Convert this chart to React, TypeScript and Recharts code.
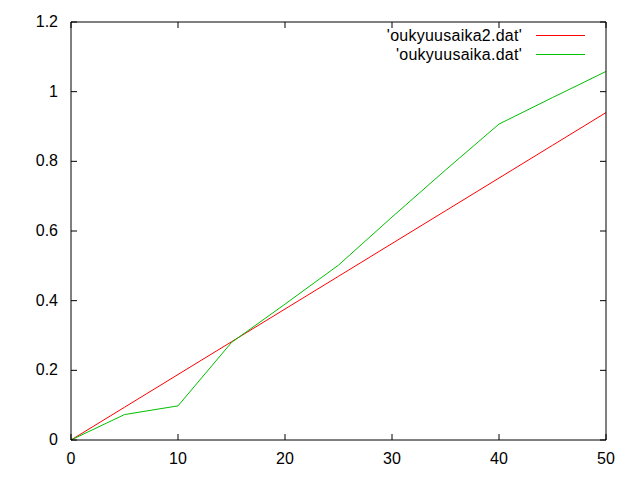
import React from "react";
import { LineChart, Line, XAxis, YAxis, Legend } from "recharts";

const xValues = [0, 5, 10, 15, 20, 25, 30, 35, 40, 45, 50];
const redValues = [0, 0.094, 0.188, 0.282, 0.376, 0.47, 0.564, 0.658, 0.752, 0.846, 0.94];
const greenValues = [0, 0.073, 0.098, 0.28, 0.39, 0.502, 0.64, 0.775, 0.907, 0.983, 1.058];
const xTicks = [0, 10, 20, 30, 40, 50];
const yTicks = [0, 0.2, 0.4, 0.6, 0.8, 1, 1.2];
const seriesNames = ["'oukyuusaika2.dat'", "'oukyuusaika.dat'"];
const seriesColors = ["#ff0000", "#00c000"];

const data = xValues.map((x, i) => ({ x, red: redValues[i], green: greenValues[i] }));

const FONT = "'Liberation Sans', Arial, sans-serif";
const FS = 16;
const TICK = 6;

const LeftTick = (props: any) => {
  const { x, y, payload } = props;
  return (
    <g>
      <line x1={x} x2={x + TICK} y1={y} y2={y} stroke="#000" />
      <text x={x - 13} y={y} dy={5} textAnchor="end" fontFamily={FONT} fontSize={FS} fill="#000">
        {String(payload.value)}
      </text>
    </g>
  );
};
const RightTick = (props: any) => {
  const { x, y } = props;
  return <line x1={x - TICK} x2={x} y1={y} y2={y} stroke="#000" />;
};
const BottomTick = (props: any) => {
  const { x, y, payload } = props;
  return (
    <g>
      <line x1={x} x2={x} y1={y} y2={y - TICK} stroke="#000" />
      <text x={x} y={y + 24} textAnchor="middle" fontFamily={FONT} fontSize={FS} fill="#000">
        {String(payload.value)}
      </text>
    </g>
  );
};
const TopTick = (props: any) => {
  const { x, y } = props;
  return <line x1={x} x2={x} y1={y} y2={y + TICK} stroke="#000" />;
};

const LegendContent = () => (
  <div style={{ fontFamily: FONT, fontSize: FS, color: "#000", lineHeight: "19px" }}>
    {seriesNames.map((n, i) => (
      <div key={n} style={{ display: "flex", alignItems: "center", justifyContent: "flex-end", height: 19 }}>
        <span style={{ whiteSpace: "pre", letterSpacing: "0.25px" }}>{n}</span>
        <svg width={49} height={19} style={{ marginLeft: 14, display: "block" }}>
          <line x1={0} x2={49} y1={9.5} y2={9.5} stroke={seriesColors[i]} strokeWidth={1} />
        </svg>
      </div>
    ))}
  </div>
);

export default function App() {
  return (
    <div style={{ position: "absolute", left: 0, top: 0, background: "#fff" }}>
      <LineChart width={640} height={480} data={data} margin={{ top: 21, right: 33, bottom: 0, left: 0 }}>
        <XAxis
          xAxisId="b"
          dataKey="x"
          type="number"
          domain={[0, 50]}
          ticks={xTicks}
          height={40}
          tickLine={false}
          tickSize={0}
          tickMargin={0}
          axisLine={{ stroke: "#000" }}
          tick={<BottomTick />}
        />
        <XAxis
          xAxisId="t"
          orientation="top"
          dataKey="x"
          type="number"
          domain={[0, 50]}
          ticks={xTicks}
          height={1}
          tickLine={false}
          tickSize={0}
          tickMargin={0}
          axisLine={{ stroke: "#000" }}
          tick={<TopTick />}
        />
        <YAxis
          yAxisId="l"
          type="number"
          domain={[0, 1.2]}
          ticks={yTicks}
          width={71}
          tickLine={false}
          tickSize={0}
          tickMargin={0}
          axisLine={{ stroke: "#000" }}
          tick={<LeftTick />}
        />
        <YAxis
          yAxisId="r"
          orientation="right"
          type="number"
          domain={[0, 1.2]}
          ticks={yTicks}
          width={1}
          tickLine={false}
          tickSize={0}
          tickMargin={0}
          axisLine={{ stroke: "#000" }}
          tick={<RightTick />}
        />
        <Legend
          layout="vertical"
          align="center"
          verticalAlign="middle"
          content={<LegendContent />}
          wrapperStyle={{ position: "absolute", top: 26, left: 300, width: 285 }}
        />
        <Line xAxisId="b" yAxisId="l" dataKey="red" type="linear" stroke={seriesColors[0]} strokeWidth={1} dot={false} isAnimationActive={false} />
        <Line xAxisId="b" yAxisId="l" dataKey="green" type="linear" stroke={seriesColors[1]} strokeWidth={1} dot={false} isAnimationActive={false} />
        <Line xAxisId="t" yAxisId="r" dataKey="red" type="linear" stroke="none" dot={false} legendType="none" isAnimationActive={false} />
      </LineChart>
    </div>
  );
}
